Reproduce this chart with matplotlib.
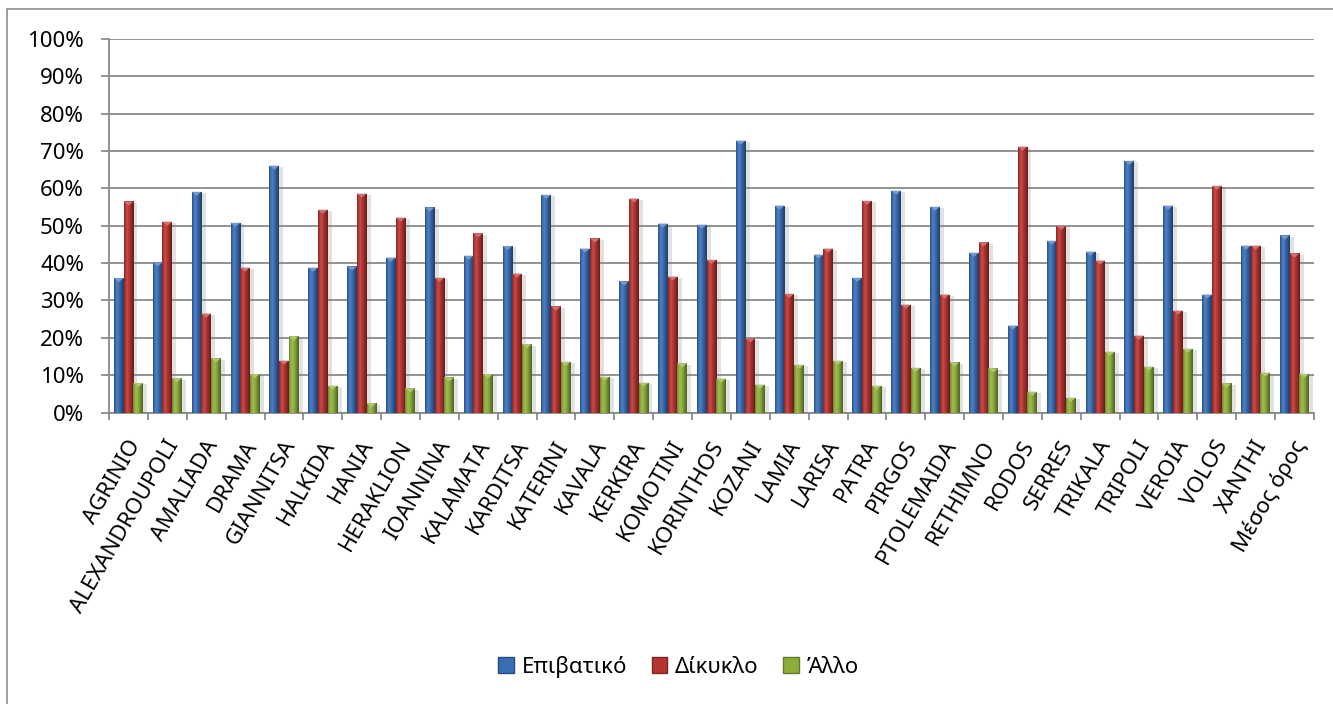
import numpy as np
import matplotlib
matplotlib.use("Agg")
import matplotlib.pyplot as plt
import matplotlib.transforms as mtransforms
from matplotlib import patheffects as pe
from matplotlib.patches import Patch, Rectangle
from matplotlib.colors import to_rgb

plt.rcParams['font.family'] = ['Noto Sans', 'DejaVu Sans']

cities = ["AGRINIO", "ALEXANDROUPOLI", "AMALIADA", "DRAMA", "GIANNITSA", "HALKIDA",
          "HANIA", "HERAKLION", "IOANNINA", "KALAMATA", "KARDITSA", "KATERINI",
          "KAVALA", "KERKIRA", "KOMOTINI", "KORINTHOS", "KOZANI", "LAMIA", "LARISA",
          "PATRA", "PIRGOS", "PTOLEMAIDA", "RETHIMNO", "RODOS", "SERRES", "TRIKALA",
          "TRIPOLI", "VEROIA", "VOLOS", "XANTHI", "Μέσος όρος"]

car = [36.0, 40.2, 59.1, 50.8, 66.1, 38.8, 39.1, 41.5, 54.9, 42.0, 44.6, 58.3,
       43.9, 35.1, 50.6, 50.3, 72.8, 55.4, 42.3, 36.1, 59.4, 55.1, 42.8, 23.3,
       46.0, 43.1, 67.4, 55.4, 31.6, 44.7, 47.4]
moto = [56.5, 51.1, 26.5, 38.8, 13.9, 54.3, 58.6, 52.2, 36.1, 48.0, 37.2, 28.4,
        46.6, 57.3, 36.4, 40.9, 19.9, 31.8, 43.9, 56.7, 28.9, 31.6, 45.6, 71.2,
        50.0, 40.7, 20.6, 27.3, 60.7, 44.7, 42.6]
other = [7.9, 9.2, 14.5, 10.3, 20.4, 7.2, 2.5, 6.5, 9.4, 10.3, 18.3, 13.6,
         9.6, 8.0, 13.2, 9.1, 7.5, 12.8, 13.9, 7.2, 12.0, 13.4, 11.8, 5.6,
         4.0, 16.3, 12.3, 17.1, 7.8, 10.7, 10.4]

series_names = ["Επιβατικό", "Δίκυκλο", "Άλλο"]
series_colors = ["#3A6DB3", "#B63533", "#8EAE3C"]

FS = 16

fig = plt.figure(figsize=(13.33, 7.04), dpi=100)
# outer chart frame (only its top and left edges fall inside the image)
fig.add_artist(Rectangle((0.0053, -0.05), 1.2, 1.037, transform=fig.transFigure,
                         fill=False, edgecolor="#8c8c8c", linewidth=1.2))

ax = fig.add_axes([0.0818, 0.414, 0.9039, 0.5306])

x = np.arange(len(cities))
w = 0.25
offsets = [-w, 0.0, w]


def shade(c, f):
    r, g, b = to_rgb(c)
    if f >= 1:
        return tuple(v + (1 - v) * (f - 1) for v in (r, g, b))
    return tuple(v * f for v in (r, g, b))


# horizontal shading profile across a bar (left -> right)
prof = np.array([0.82, 0.97, 1.08, 1.1, 1.05, 0.97, 0.88, 0.78, 0.68, 0.6])

for vals, off, col in zip([car, moto, other], offsets, series_colors):
    bars = ax.bar(x + off, vals, width=w, color=col, zorder=3, linewidth=0,
                  path_effects=[pe.SimplePatchShadow(offset=(3, -1), shadow_rgbFace="#888888", alpha=0.25),
                                pe.Normal()])
    grad = np.array([shade(col, f) for f in prof])[None, :, :]
    for b in bars:
        x0, y0 = b.get_x(), b.get_y()
        bw, bh = b.get_width(), b.get_height()
        im = ax.imshow(grad, extent=(x0, x0 + bw, y0, y0 + bh), aspect="auto",
                       zorder=3.5, interpolation="bilinear")
        im.set_clip_path(b)
        # small pyramid cap at the top of each bar
        cap = min(1.1, bh)
        ax.fill([x0, x0 + bw, x0 + bw / 2], [y0 + bh, y0 + bh, y0 + bh - cap],
                color=shade(col, 1.3), zorder=4, linewidth=0)

ax.set_xlim(-0.5, len(cities) - 0.5)
ax.set_ylim(0, 100)
ax.set_yticks(np.arange(0, 101, 10))
ax.set_yticklabels([f"{v}%" for v in range(0, 101, 10)], fontsize=FS)
ax.yaxis.grid(True, color="#8a8a8a", linewidth=1.3, zorder=0)
ax.set_axisbelow(True)

ax.set_xticks(x)
ax.set_xticklabels(cities, rotation=60, ha="right", va="center",
                   rotation_mode="anchor", fontsize=FS)
ax.tick_params(axis="x", length=0, pad=21)
shift = mtransforms.ScaledTranslation(5 / 72, 0, fig.dpi_scale_trans)
for lbl in ax.get_xticklabels():
    lbl.set_transform(lbl.get_transform() + shift)
ax.set_xticks(np.arange(-0.5, len(cities), 1), minor=True)
ax.tick_params(axis="x", which="minor", length=5, color="#8a8a8a", width=1.3)
ax.tick_params(axis="y", length=6, color="#8a8a8a", width=1.3, pad=12)

for s in ["top", "right"]:
    ax.spines[s].set_visible(False)
for s in ["left", "bottom"]:
    ax.spines[s].set_color("#8a8a8a")
    ax.spines[s].set_linewidth(1.3)

handles = [Patch(facecolor=c, edgecolor=shade(c, 0.7), linewidth=1) for c in series_colors]
fig.legend(handles, series_names, loc="center", bbox_to_anchor=(0.509, 0.053),
           ncol=3, frameon=False, fontsize=FS, handlelength=0.7, handleheight=0.7,
           handletextpad=0.35, columnspacing=1.1)

fig.savefig("out.png", dpi=100)
